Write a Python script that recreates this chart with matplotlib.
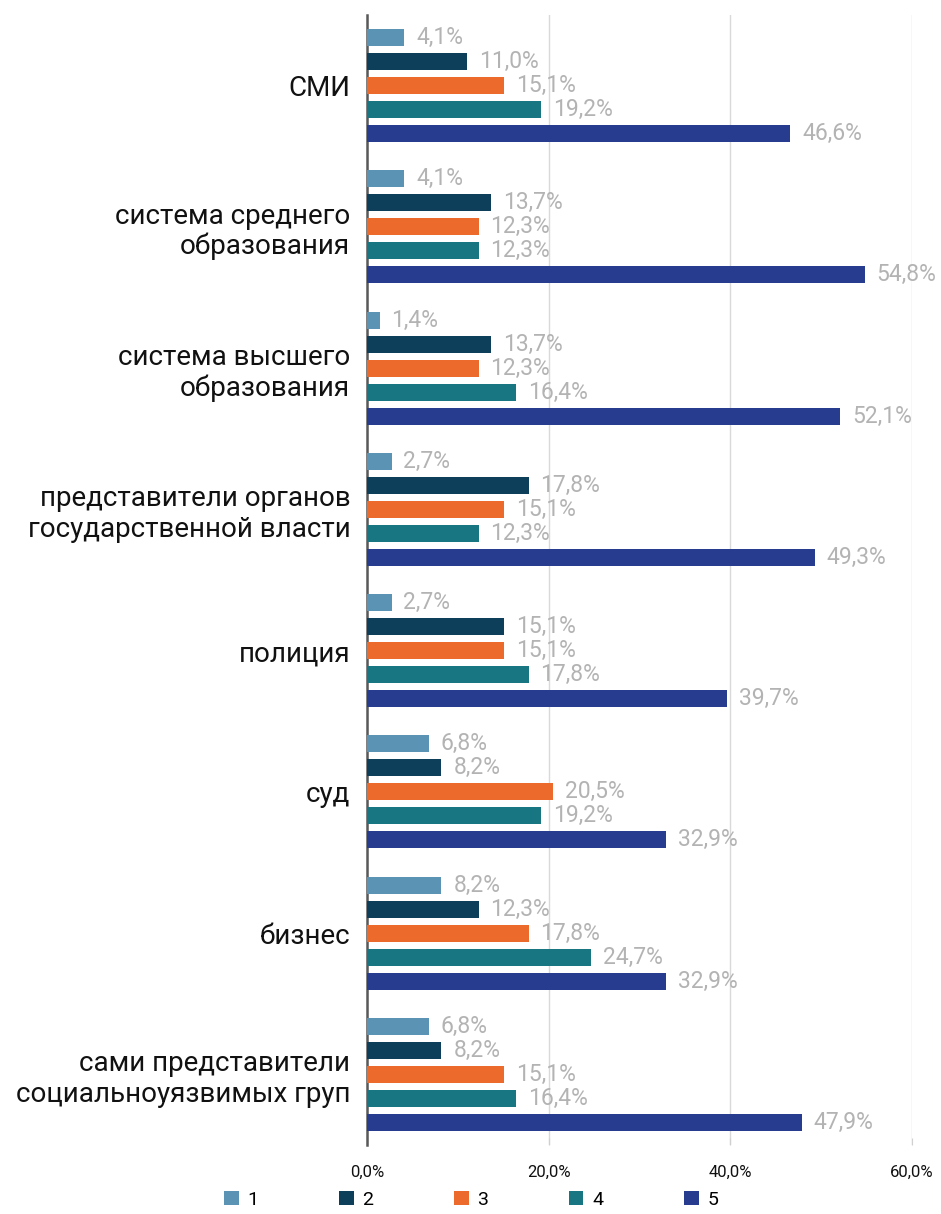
import numpy as np
import matplotlib
matplotlib.use("Agg")
import matplotlib.pyplot as plt
from matplotlib.patches import Patch

plt.rcParams['font.family'] = ['Roboto', 'DejaVu Sans']

# данные
categories = ['СМИ', 'система среднего\nобразования', 'система высшего\nобразования',
              'представители органов\nгосударственной власти', 'полиция', 'суд', 'бизнес',
              'сами представители\nсоциальноуязвимых груп']
s1 = [4.1, 4.1, 1.4, 2.7, 2.7, 6.8, 8.2, 6.8]
s2 = [11.0, 13.7, 13.7, 17.8, 15.1, 8.2, 12.3, 8.2]
s3 = [15.1, 12.3, 12.3, 15.1, 15.1, 20.5, 17.8, 15.1]
s4 = [19.2, 12.3, 16.4, 12.3, 17.8, 19.2, 24.7, 16.4]
s5 = [46.6, 54.8, 52.1, 49.3, 39.7, 32.9, 32.9, 47.9]
series_names = ['1', '2', '3', '4', '5']
xticks = [0, 20, 40, 60]

colores = ['#5b93b5', '#0d3f5b', '#ec6a2c', '#187682', '#283c8f']
series = [s1, s2, s3, s4, s5]

fig = plt.figure(figsize=(9.41, 12.14), dpi=100)
ax = fig.add_axes([0.390, 0.0568, 0.579, 0.9308])

y = np.arange(len(categories))
paso = 0.17
alto = 0.12
for i, (vals, col) in enumerate(zip(series, colores)):
    pos = y + (i - 2) * paso
    ax.barh(pos, vals, height=alto, color=col, zorder=3)
    for p, v in zip(pos, vals):
        ax.text(v + 1.3, p, f"{v:.1f}%".replace('.', ','), va='center', ha='left',
                fontsize=16.5, color='#b3b3b3', clip_on=False, zorder=4)

ax.set_ylim(len(categories) - 0.5, -0.5)
ax.set_xlim(0, 60)
ax.set_yticks(y)
ax.set_yticklabels(categories, fontsize=20, linespacing=1.15)
ax.tick_params(axis='y', length=0, pad=12, colors='#111111')
ax.set_xticks(xticks)
ax.set_xticklabels([f"{t:.1f}%".replace('.', ',') for t in xticks], fontsize=12)
ax.tick_params(axis='x', length=5, direction='in', color='#d0d0d0', pad=14, colors='#111111')
ax.tick_params(axis='x', color='#d0d0d0')

for s in ['top', 'right', 'bottom']:
    ax.spines[s].set_visible(False)
ax.spines['left'].set_color('#595959')
ax.spines['left'].set_linewidth(1.8)
ax.grid(axis='x', color='#d9d9d9', linewidth=1, zorder=0)

handles = [Patch(facecolor=c, edgecolor='none') for c in colores]
fig.legend(handles, series_names, loc='center left', bbox_to_anchor=(0.238, 0.0115),
           ncol=5, frameon=False, fontsize=14, handlelength=0.75, handleheight=0.75,
           handletextpad=0.45, columnspacing=4.15, borderaxespad=0, borderpad=0)

fig.savefig('out.png', dpi=100)
